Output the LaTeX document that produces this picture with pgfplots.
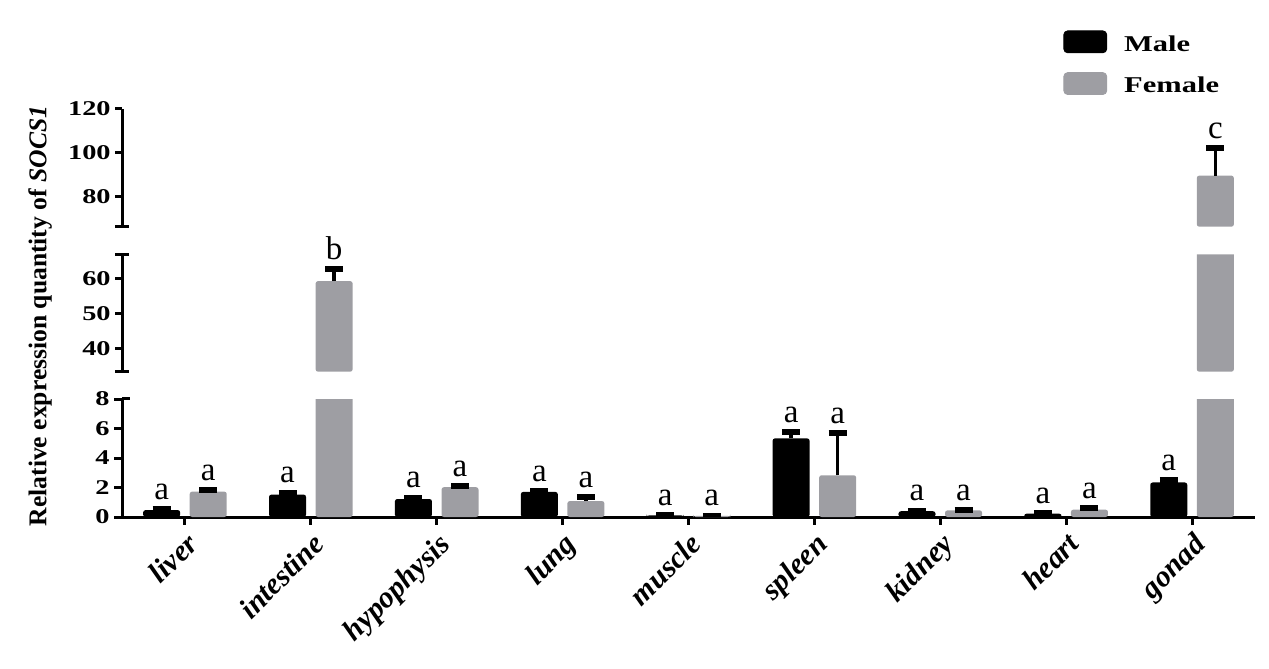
\documentclass[border=0pt]{standalone}
\usepackage{fontspec}
\setmainfont{Liberation Serif}
\newfontfamily\widefont{Liberation Serif}[FakeStretch=1.35]
\usepackage{pgfplots}
\usepackage{pgfplotstable}
\pgfplotsset{compat=1.18}
\definecolor{fem}{RGB}{158,158,163}

\pgfplotstableread{
x y e
0 0.47 0.06
1 1.52 0.14
2 1.22 0.10
3 1.70 0.04
4 0.11 0.02
5 5.33 0.40
6 0.39 0.04
7 0.23 0.04
8 2.34 0.15
}\male
\pgfplotstableread{
x y e
0 1.72 0.10
1 59.3 3.40
2 2.02 0.08
3 1.08 0.25
4 0.07 0.02
5 2.83 2.84
6 0.45 0.02
7 0.50 0.09
8 89.6 12.5
}\female

\pgfplotsset{
  brk/.style={scale only axis, width=566.5pt, xmin=-0.5, xmax=8.5,
    axis y line*=left,
    axis line style={line width=1.5pt,-},
    tick style={line width=1.5pt, black},
    major tick length=3.5pt, tick align=outside, ytick pos=left,
    clip mode=individual,
    yticklabel style={font=\widefont\bfseries\fontsize{10.5}{12}\selectfont, inner sep=2pt},
    /pgf/number format/assume math mode=true},
  ebar/.style={error bars/y dir=plus, error bars/y explicit,
    error bars/error bar style={line width=1.8pt, black},
    error bars/error mark=|,
    error bars/error mark options={line width=3pt, mark size=4.5pt, black}},
  mbar/.style={ybar, bar width=0.294, bar shift=0pt, fill=black, draw=none, rounded corners=1.2pt, ebar},
  fbar/.style={ybar, bar width=0.294, bar shift=0pt, fill=fem, draw=none, rounded corners=1.2pt, ebar},
}
\tikzset{lab/.style={anchor=base, yshift=5pt, font=\fontsize{16.5}{18}\selectfont, inner sep=0pt}}

\begin{document}
\begin{tikzpicture}
\path[use as bounding box] (0,0) rectangle (634.5pt,334.5pt);

% bottom segment
\begin{axis}[brk, name=bot, at={(61pt,76pt)}, anchor=south west, height=59pt,
  ymin=0, ymax=8, ytick={0,2,4,6,8},
  axis x line*=bottom,
  xtick={0,...,8},
  xticklabels={liver,intestine,hypophysis,lung,muscle,spleen,kidney,heart,gonad},
  xticklabel style={font=\bfseries\itshape\fontsize{15}{17}\selectfont, rotate=45, anchor=north east, inner sep=2pt},
  major tick length=4pt]
\addplot[mbar] table[x expr=\thisrow{x}-0.185, y=y, y error=e]{\male};
\addplot[fbar] table[x expr=\thisrow{x}+0.185, y=y, y error=e]{\female};
\node[lab] at (axis cs:-0.185,0.53) {a};
\node[lab] at (axis cs:0.185,1.82) {a};
\node[lab] at (axis cs:0.815,1.66) {a};
\node[lab] at (axis cs:1.815,1.32) {a};
\node[lab] at (axis cs:2.185,2.10) {a};
\node[lab] at (axis cs:2.815,1.74) {a};
\node[lab] at (axis cs:3.185,1.33) {a};
\node[lab] at (axis cs:3.815,0.13) {a};
\node[lab] at (axis cs:4.185,0.09) {a};
\node[lab] at (axis cs:4.815,5.73) {a};
\node[lab] at (axis cs:5.185,5.67) {a};
\node[lab] at (axis cs:5.815,0.43) {a};
\node[lab] at (axis cs:6.185,0.47) {a};
\node[lab] at (axis cs:6.815,0.27) {a};
\node[lab] at (axis cs:7.185,0.59) {a};
\node[lab] at (axis cs:7.815,2.49) {a};
\end{axis}

% middle segment
\begin{axis}[brk, name=mid, at={(61pt,148.65pt)}, anchor=south west, height=58.7pt,
  ymin=33.3, ymax=67, ytick={40,50,60},
  axis x line=none, xtick=\empty]
\addplot[fbar] coordinates {(1.185,59.3) +- (0,3.4) (8.185,89.6) +- (0,12.5)};
\node[lab] at (axis cs:1.185,62.7) {b};
\end{axis}

% top segment
\begin{axis}[brk, name=top, at={(61pt,221.15pt)}, anchor=south west, height=58.85pt,
  ymin=66.3, ymax=120, ytick={80,100,120},
  axis x line=none, xtick=\empty,
  legend style={at={(0.8305,1.671)}, anchor=north west, draw=none, fill=none,
    inner sep=0pt, row sep=9pt, nodes={inner sep=0pt},
    font=\widefont\bfseries\fontsize{11.3}{13}\selectfont,
    /tikz/every odd column/.append style={column sep=8.5pt}},
  legend cell align=left]
\addplot[fbar, forget plot] coordinates {(8.185,89.6) +- (0,12.5)};
\addlegendimage{legend image code/.code={\fill[black,rounded corners=2pt] (0pt,-4pt) rectangle (21.5pt,7pt);}}
\addlegendentry{Male}
\addlegendimage{legend image code/.code={\fill[fem,rounded corners=2pt] (0pt,-4pt) rectangle (21.5pt,7pt);}}
\addlegendentry{Female}
\node[lab] at (axis cs:8.185,102.1) {c};
\end{axis}

% axis-break caps
\draw[line width=1.5pt] (bot.north west) -- ([xshift=4pt]bot.north west);
\draw[line width=1.5pt] ([xshift=-3.5pt]mid.north west) -- ([xshift=3.5pt]mid.north west);
\draw[line width=1.5pt] ([xshift=-3.5pt]mid.south west) -- ([xshift=3.5pt]mid.south west);
\draw[line width=1.5pt] ([xshift=-3.5pt]top.south west) -- ([xshift=3.5pt]top.south west);

\node[rotate=90, font=\bfseries\fontsize{12.8}{14}\selectfont] at (20pt,176.5pt) {Relative expression quantity of \textit{SOCS1}};
\end{tikzpicture}
\end{document}
